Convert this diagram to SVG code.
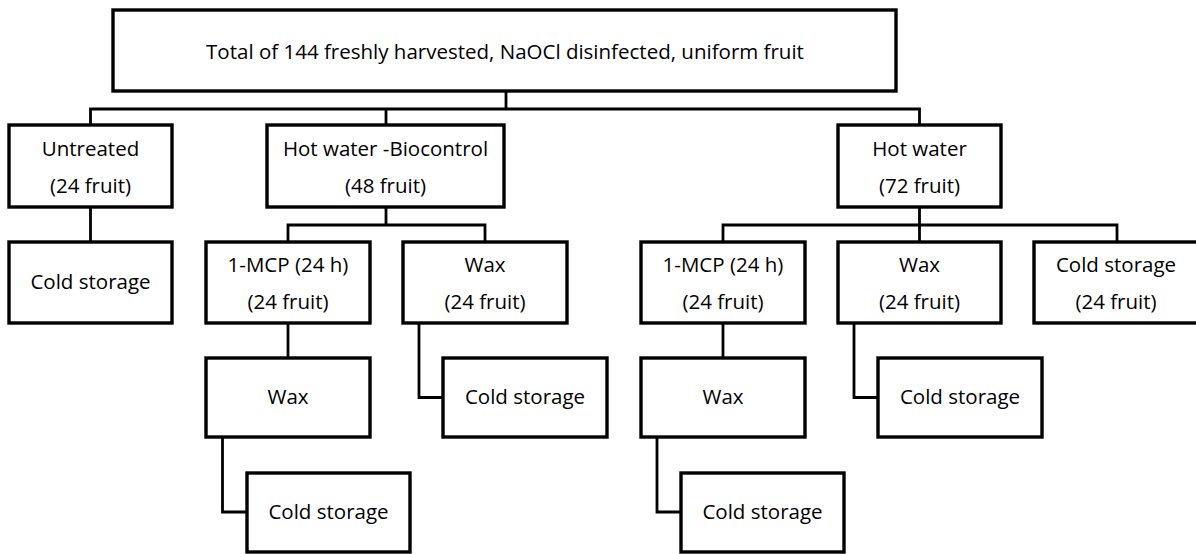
<svg xmlns="http://www.w3.org/2000/svg" width="1196" height="554" viewBox="0 0 1196 554">
<style>
.box{fill:#fff;stroke:#000;stroke-width:3.4}
.lbl{font-family:"Open Sans","Liberation Sans",sans-serif;font-size:20.5px;fill:#000;text-anchor:middle}
.con{fill:none;stroke:#000;stroke-width:2.8;stroke-linejoin:miter}
</style>
<rect width="1196" height="554" fill="#fff"/>
<g id="connectors">
<path class="con" d="M506,91 V109"/>
<path class="con" d="M90.5,125 V109 H919.5 V125"/>
<path class="con" d="M386,109 V125"/>
<path class="con" d="M90.5,207 V242"/>
<path class="con" d="M386,207 V225"/>
<path class="con" d="M288,242 V225 H485 V242"/>
<path class="con" d="M919.5,207 V242"/>
<path class="con" d="M723,242 V225 H1117 V242"/>
<path class="con" d="M288,323 V358"/>
<path class="con" d="M723,323 V358"/>
<path class="con" d="M419,323 V397.5 H443"/>
<path class="con" d="M854,323 V397.5 H878"/>
<path class="con" d="M222.5,437 V512 H247"/>
<path class="con" d="M657,437 V512 H681"/>
</g>
<g id="n-total"><rect class="box" x="113" y="10" width="783" height="81"/><text class="lbl" x="505" y="59">Total of 144 freshly harvested, NaOCl disinfected, uniform fruit</text></g>
<g id="n-untreated"><rect class="box" x="9" y="125" width="163" height="82"/><text class="lbl" x="90.5" y="156">Untreated</text><text class="lbl" x="90.5" y="193">(24 fruit)</text></g>
<g id="n-hwbio"><rect class="box" x="267" y="125" width="237" height="82"/><text class="lbl" x="385.5" y="156">Hot water -Biocontrol</text><text class="lbl" x="385.5" y="193">(48 fruit)</text></g>
<g id="n-hw"><rect class="box" x="838" y="125" width="163" height="82"/><text class="lbl" x="919.5" y="156">Hot water</text><text class="lbl" x="919.5" y="193">(72 fruit)</text></g>
<g id="n-cold-untreated"><rect class="box" x="9" y="242" width="163" height="81"/><text class="lbl" x="90.5" y="289">Cold storage</text></g>
<g id="n-mcp-l"><rect class="box" x="206" y="242" width="164" height="81"/><text class="lbl" x="288" y="272">1-MCP (24 h)</text><text class="lbl" x="288" y="309">(24 fruit)</text></g>
<g id="n-wax-l"><rect class="box" x="403" y="242" width="164" height="81"/><text class="lbl" x="485" y="272">Wax</text><text class="lbl" x="485" y="309">(24 fruit)</text></g>
<g id="n-mcp-r"><rect class="box" x="641" y="242" width="164" height="81"/><text class="lbl" x="723" y="272">1-MCP (24 h)</text><text class="lbl" x="723" y="309">(24 fruit)</text></g>
<g id="n-wax-r"><rect class="box" x="838" y="242" width="163" height="81"/><text class="lbl" x="919.5" y="272">Wax</text><text class="lbl" x="919.5" y="309">(24 fruit)</text></g>
<g id="n-cold-r"><rect class="box" x="1034" y="242" width="166" height="81"/><text class="lbl" x="1116" y="272">Cold storage</text><text class="lbl" x="1116" y="309">(24 fruit)</text></g>
<g id="n-wax2-l"><rect class="box" x="206" y="358" width="164" height="79"/><text class="lbl" x="288" y="404">Wax</text></g>
<g id="n-cold-waxl"><rect class="box" x="443" y="358" width="164" height="79"/><text class="lbl" x="525" y="404">Cold storage</text></g>
<g id="n-wax2-r"><rect class="box" x="641" y="358" width="164" height="79"/><text class="lbl" x="723" y="404">Wax</text></g>
<g id="n-cold-waxr"><rect class="box" x="878" y="358" width="164" height="79"/><text class="lbl" x="960" y="404">Cold storage</text></g>
<g id="n-cold-bot-l"><rect class="box" x="247" y="473" width="163" height="79"/><text class="lbl" x="328.5" y="519">Cold storage</text></g>
<g id="n-cold-bot-r"><rect class="box" x="681" y="473" width="163" height="79"/><text class="lbl" x="762.5" y="519">Cold storage</text></g>
</svg>
